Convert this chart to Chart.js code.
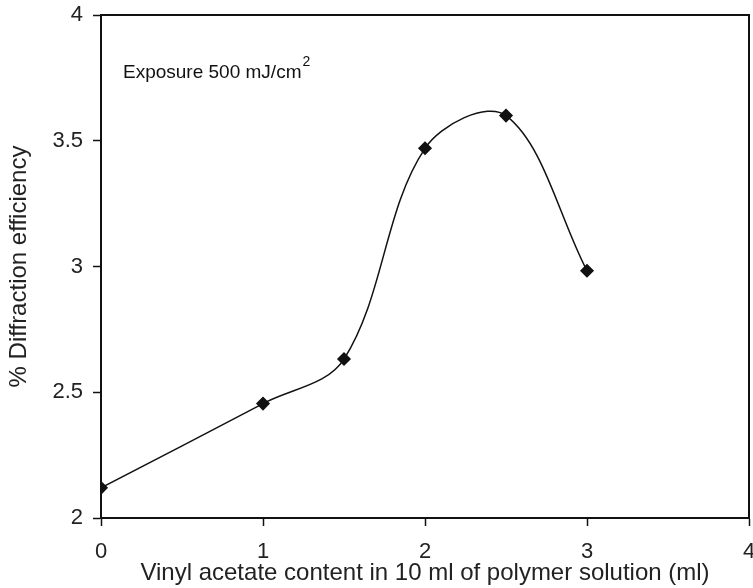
<!DOCTYPE html>
<html>
<head>
<meta charset="utf-8">
<script src="https://cdn.jsdelivr.net/npm/chart.js@4"></script>
<style>
  html, body { margin: 0; padding: 0; background: #fff; }
  #wrap { width: 753px; height: 588px; }
</style>
</head>
<body>
<div id="wrap"><canvas id="chart"></canvas></div>
<script>
// data
const vinylAcetate = [0, 1, 1.5, 2, 2.5, 3];
const efficiency = [2.12, 2.455, 2.632, 3.47, 3.6, 2.983];
const xTicks = [0, 1, 2, 3, 4];
const yTicks = [2, 2.5, 3, 3.5, 4];

const fontFam = "'Liberation Sans', Arial, Helvetica, sans-serif";

// frame + annotation
const framePlugin = {
  id: "frame",
  afterDraw(chart) {
    const { ctx, chartArea: a } = chart;
    ctx.save();
    ctx.strokeStyle = "#111";
    ctx.lineWidth = 2;
    ctx.strokeRect(a.left, a.top, a.right - a.left, a.bottom - a.top);
    ctx.fillStyle = "#111";
    ctx.font = "19px " + fontFam;
    ctx.textBaseline = "alphabetic";
    const txt = "Exposure 500 mJ/cm";
    ctx.fillText(txt, a.left + 22, 78);
    const w = ctx.measureText(txt).width;
    ctx.font = "14px " + fontFam;
    ctx.fillText("2", a.left + 23 + w, 66);
    ctx.restore();
  },
};

new Chart(document.getElementById("chart"), {
  type: "scatter",
  data: {
    datasets: [
      {
        data: vinylAcetate.map((x, i) => ({ x: x, y: efficiency[i] })),
        showLine: true,
        tension: 0.35,
        borderColor: "#111",
        borderWidth: 1.5,
        pointStyle: "rectRot",
        pointRadius: 6,
        pointBackgroundColor: "#111",
        pointBorderColor: "#111",
      },
    ],
  },
  plugins: [framePlugin],
  options: {
    responsive: true,
    maintainAspectRatio: false,
    animation: false,
    layout: { autoPadding: false, padding: { top: 15, right: 4, left: 0, bottom: 0 } },
    plugins: { legend: { display: false }, tooltip: { enabled: false } },
    scales: {
      x: {
        type: "linear",
        min: 0,
        max: 4,
        afterBuildTicks: (s) => { s.ticks = xTicks.map((v) => ({ value: v })); },
        afterFit: (s) => { s.height = 70; s.paddingLeft = 0; s.paddingRight = 0; },
        grid: { drawOnChartArea: false, color: "#111", tickLength: 8, tickWidth: 1.5 },
        border: { color: "#111", width: 2 },
        ticks: {
          color: "#222",
          font: { family: fontFam, size: 22 },
          padding: 13,
          callback: (v) => String(v),
        },
        title: {
          display: true,
          text: "Vinyl acetate content in 10 ml of polymer solution (ml)",
          color: "#222",
          font: { family: fontFam, size: 24 },
          padding: { top: 0, bottom: 0 },
        },
      },
      y: {
        min: 2,
        max: 4,
        afterBuildTicks: (s) => { s.ticks = yTicks.map((v) => ({ value: v })); },
        afterFit: (s) => { s.width = 101; s.paddingTop = 0; s.paddingBottom = 0; },
        grid: { drawOnChartArea: false, color: "#111", tickLength: 8, tickWidth: 1.5 },
        border: { color: "#111", width: 2 },
        ticks: {
          color: "#222",
          font: { family: fontFam, size: 22 },
          padding: 10,
          callback: (v) => String(v),
        },
        title: {
          display: true,
          text: "% Diffraction efficiency",
          color: "#222",
          font: { family: fontFam, size: 24 },
          padding: { top: 5, bottom: 0 },
        },
      },
    },
  },
});
</script>
</body>
</html>
